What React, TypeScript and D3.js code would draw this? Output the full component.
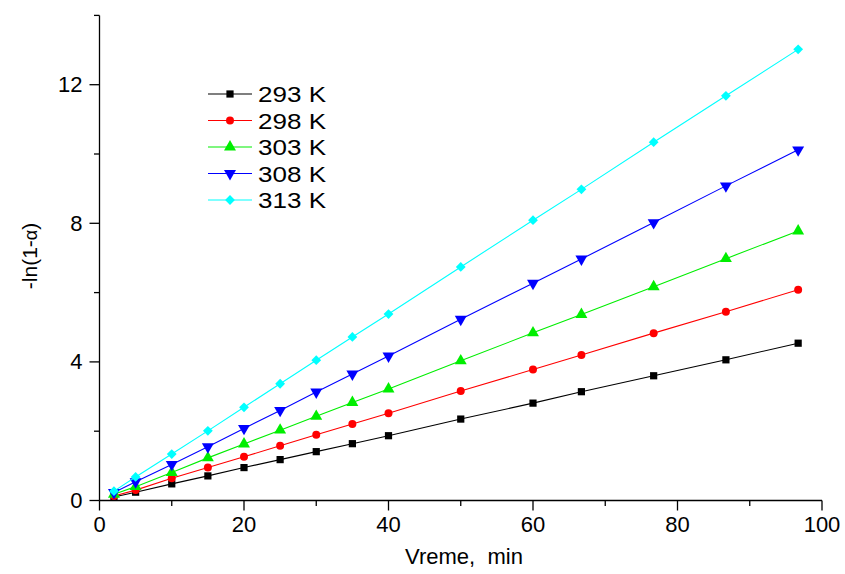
import React from "react";
import * as d3 from "d3";

const timeMin = [2, 5, 10, 15, 20, 25, 30, 35, 40, 50, 60, 66.7, 76.7, 86.7, 96.7];
const s293 = [0.1, 0.24, 0.48, 0.71, 0.95, 1.18, 1.41, 1.64, 1.87, 2.35, 2.81, 3.14, 3.6, 4.06, 4.54];
const s298 = [0.13, 0.3, 0.64, 0.95, 1.26, 1.58, 1.9, 2.21, 2.52, 3.16, 3.78, 4.2, 4.83, 5.45, 6.08];
const s303 = [0.18, 0.4, 0.81, 1.23, 1.63, 2.03, 2.43, 2.83, 3.22, 4.03, 4.84, 5.37, 6.17, 6.98, 7.78];
const s308 = [0.23, 0.54, 1.04, 1.55, 2.08, 2.6, 3.13, 3.65, 4.17, 5.23, 6.27, 6.97, 8.02, 9.08, 10.12];
const s313 = [0.27, 0.68, 1.34, 2.01, 2.69, 3.37, 4.05, 4.72, 5.38, 6.74, 8.09, 8.98, 10.34, 11.68, 13.02];
const seriesNames = ["293 K", "298 K", "303 K", "308 K", "313 K"];
const seriesColors = ["#000000", "#ff0000", "#00ee00", "#0000ff", "#00ffff"];
const seriesSymbols = [d3.symbolSquare, d3.symbolCircle, d3.symbolTriangle, d3.symbolTriangle, d3.symbolSquare];
const xMajor = [0, 20, 40, 60, 80, 100];
const xMinor = [10, 30, 50, 70, 90];
const yMajor = [0, 4, 8, 12];
const yMinor = [2, 6, 10, 14];

const allSeries = [s293, s298, s303, s308, s313];

export default function App() {
  const W = 845, H = 574;
  const x = d3.scaleLinear().domain([0, 100]).range([99.5, 822]);
  const y = d3.scaleLinear().domain([0, 14]).range([500.5, 15.4]);
  const line = d3.line<[number, number]>().x(d => x(d[0])).y(d => y(d[1]));
  const symSizes = [52, 50, 62, 62, 48];
  const sym = (i: number) => d3.symbol().type(seriesSymbols[i]).size(symSizes[i])();
  const rot = (i: number) => (i === 3 ? " rotate(180)" : i === 4 ? " rotate(45)" : "");
  const font = "Arial, 'Liberation Sans', sans-serif";
  const legendY = [94, 120.5, 147, 173.5, 200];

  return (
    <svg width={W} height={H} style={{ position: "absolute", left: 0, top: 0, background: "#fff" }} fontFamily={font}>
      <rect width={W} height={H} fill="#fff" />
      {/* axes */}
      <line x1={x(0)} x2={x(0)} y1={y(14)} y2={y(0)} stroke="#000" strokeWidth={1.3} />
      <line x1={x(0)} x2={x(100)} y1={y(0)} y2={y(0)} stroke="#000" strokeWidth={1.3} />
      {xMajor.map(v => (
        <g key={"xm" + v}>
          <line x1={x(v)} x2={x(v)} y1={y(0)} y2={y(0) + 10} stroke="#000" strokeWidth={1.3} />
          <text x={x(v)} y={y(0) + 31.5} fontSize={22} textAnchor="middle">{v}</text>
        </g>
      ))}
      {xMinor.map(v => (
        <line key={"xn" + v} x1={x(v)} x2={x(v)} y1={y(0)} y2={y(0) + 5.5} stroke="#000" strokeWidth={1.3} />
      ))}
      {yMajor.map(v => (
        <g key={"ym" + v}>
          <line x1={x(0) - 10} x2={x(0)} y1={y(v)} y2={y(v)} stroke="#000" strokeWidth={1.3} />
          <text x={x(0) - 17} y={y(v) + 7.5} fontSize={22} textAnchor="end">{v}</text>
        </g>
      ))}
      {yMinor.map(v => (
        <line key={"yn" + v} x1={x(0) - 5.5} x2={x(0)} y1={y(v)} y2={y(v)} stroke="#000" strokeWidth={1.3} />
      ))}
      <text x={464} y={564} fontSize={22} textAnchor="middle" style={{ whiteSpace: "pre" }}>{"Vreme,  min"}</text>
      <text transform={`translate(37,${256}) rotate(-90)`} fontSize={21} textAnchor="middle">
        -ln(1-<tspan fontSize={18}>α</tspan>)
      </text>

      {/* series */}
      {allSeries.map((vals, i) => {
        const pts: [number, number][] = vals.map((v, j) => [timeMin[j], v]);
        return (
          <g key={"s" + i}>
            <path d={line(pts) || ""} fill="none" stroke={seriesColors[i]} strokeWidth={1.1} />
            {pts.map((p, j) => (
              <path key={j} d={sym(i) || ""} transform={`translate(${x(p[0])},${y(p[1])})${rot(i)}`} fill={seriesColors[i]} />
            ))}
          </g>
        );
      })}

      {/* legend */}
      {seriesNames.map((n, i) => (
        <g key={"l" + i}>
          <line x1={208} x2={252} y1={legendY[i]} y2={legendY[i]} stroke={seriesColors[i]} strokeWidth={1.1} />
          <path d={sym(i) || ""} transform={`translate(230,${legendY[i]})${rot(i)}`} fill={seriesColors[i]} />
          <text x={258} y={legendY[i] + 8} fontSize={22} textLength={68} lengthAdjust="spacingAndGlyphs">{n}</text>
        </g>
      ))}
    </svg>
  );
}
